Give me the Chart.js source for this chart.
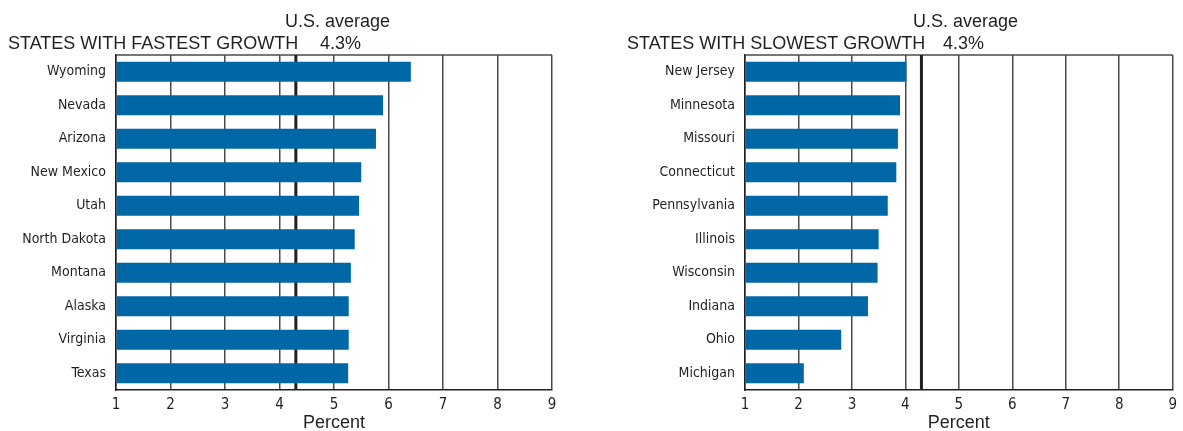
<!DOCTYPE html>
<html>
<head>
<meta charset="utf-8">
<script src="https://cdn.jsdelivr.net/npm/chart.js@4/dist/chart.umd.min.js"></script>
<style>
  html, body { margin: 0; padding: 0; background: #fff; }
  .wrap { position: absolute; top: 0; height: 431px; }
  #left { left: 0; width: 590px; }
  #right { left: 592px; width: 591px; }
</style>
</head>
<body>
<div class="wrap" id="left"><canvas id="fastChart"></canvas></div>
<div class="wrap" id="right"><canvas id="slowChart"></canvas></div>
<script>
// data
const fastStates = ['Wyoming', 'Nevada', 'Arizona', 'New Mexico', 'Utah', 'North Dakota', 'Montana', 'Alaska', 'Virginia', 'Texas'];
const fastGrowth = [6.41, 5.9, 5.77, 5.5, 5.46, 5.38, 5.31, 5.27, 5.27, 5.26];
const slowStates = ['New Jersey', 'Minnesota', 'Missouri', 'Connecticut', 'Pennsylvania', 'Illinois', 'Wisconsin', 'Indiana', 'Ohio', 'Michigan'];
const slowGrowth = [4.02, 3.9, 3.86, 3.83, 3.67, 3.5, 3.48, 3.3, 2.8, 2.1];
const usAverage = 4.3;
const xTicks = [1, 2, 3, 4, 5, 6, 7, 8, 9];

const ink = '#231f20';
const barBlue = '#0067a6';
const narrow = "'Liberation Sans Narrow', 'DejaVu Sans Condensed', sans-serif";
const sans = "'Liberation Sans', Arial, sans-serif";

// frame + US average line go under the bars, header texts on top
const decor = {
    id: 'decor',
    beforeDatasetsDraw(chart) {
        const { ctx, chartArea: a, scales } = chart;
        const xAvg = scales.x.getPixelForValue(usAverage);
        ctx.save();
        ctx.strokeStyle = '#4a4a4a';
        ctx.lineWidth = 1.5;
        ctx.beginPath();
        ctx.moveTo(a.left, a.top);
        ctx.lineTo(a.right, a.top);
        ctx.stroke();
        ctx.strokeStyle = ink;
        ctx.lineWidth = 3;
        ctx.beginPath();
        ctx.moveTo(xAvg, a.top);
        ctx.lineTo(xAvg, a.bottom);
        ctx.stroke();
        ctx.restore();
    },
    afterDraw(chart, args, opts) {
        const { ctx } = chart;
        ctx.save();
        ctx.fillStyle = ink;
        ctx.font = '18px ' + sans;
        ctx.textBaseline = 'alphabetic';
        ctx.textAlign = 'left';
        ctx.fillText(opts.title, opts.titleX, 49);
        ctx.fillText('U.S. average', opts.avgX, 27);
        ctx.fillText(usAverage.toFixed(1) + '%', opts.pctX, 49);
        ctx.restore();
    }
};

function makeChart(id, states, values, yWidth, padRight, texts) {
    const ctx = document.getElementById(id).getContext('2d');
    return new Chart(ctx, {
        type: 'bar',
        data: {
            labels: states,
            datasets: [{
                data: values,
                base: 1,
                backgroundColor: barBlue,
                borderWidth: 0,
                barPercentage: 0.6,
                categoryPercentage: 1
            }]
        },
        options: {
            indexAxis: 'y',
            responsive: true,
            maintainAspectRatio: false,
            animation: false,
            layout: { padding: { top: 55, right: padRight, left: 0, bottom: 0 } },
            plugins: {
                legend: { display: false },
                tooltip: { enabled: false },
                decor: texts
            },
            scales: {
                x: {
                    type: 'linear',
                    min: 1,
                    max: 9,
                    afterBuildTicks: s => { s.ticks = xTicks.map(v => ({ value: v })); },
                    grid: { color: '#4a4a4a', lineWidth: 1.5, drawTicks: false },
                    border: { color: ink, width: 1.5 },
                    ticks: { color: ink, padding: 6, font: { family: narrow, size: 15 } },
                    title: { display: true, text: 'Percent', color: ink, padding: { top: 0, bottom: -3 }, font: { family: sans, size: 18 } },
                    afterFit: s => { s.height = 41; }
                },
                y: {
                    grid: { display: false, drawTicks: false },
                    border: { color: ink, width: 1.5 },
                    ticks: { color: ink, padding: 10, font: { family: narrow, size: 14 } },
                    afterFit: s => { s.width = yWidth; }
                }
            }
        },
        plugins: [decor]
    });
}

makeChart('fastChart', fastStates, fastGrowth, 116, 38,
    { title: 'STATES WITH FASTEST GROWTH', titleX: 8, avgX: 285, pctX: 320 });
makeChart('slowChart', slowStates, slowGrowth, 153, 5,
    { title: 'STATES WITH SLOWEST GROWTH', titleX: 35, avgX: 321, pctX: 351 });
</script>
</body>
</html>
